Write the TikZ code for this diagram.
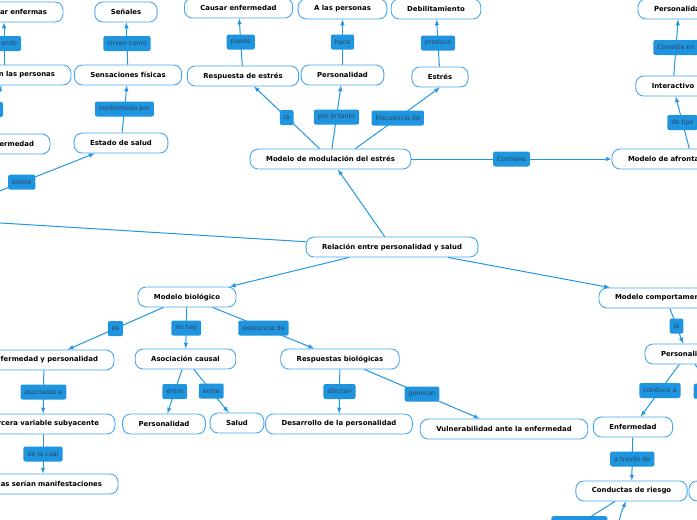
\documentclass[tikz,border=0pt]{standalone}
\usepackage{fontspec}
\setmainfont{DejaVu Sans}
\usetikzlibrary{positioning,arrows}
\definecolor{lineblue}{HTML}{2196E2}
\definecolor{boxblue}{HTML}{45A7EE}
\definecolor{tagblue}{HTML}{1F94DF}
\definecolor{tagtext}{HTML}{2E4457}
\tikzset{
	mapnode/.style={draw=boxblue,fill=white,line width=0.9pt,rounded corners=8pt,minimum height=20pt,inner xsep=16pt,inner ysep=2pt,text=black,font=\bfseries\fontsize{6.9}{8}\selectfont},
	cutleft/.style={text width=#1,align=right},
	cutright/.style={text width=#1,align=left},
	maptag/.style={fill=tagblue,text=tagtext,rounded corners=2pt,minimum height=15pt,inner xsep=4pt,inner ysep=1pt,font=\fontsize{6.4}{7.5}\selectfont},
	maparrow/.style={->,>=latex,draw=lineblue,line width=1pt}
}
\begin{document}
\begin{tikzpicture}[x=1pt,y=1pt,on grid]
		\useasboundingbox (0,0) rectangle (697,-520);
		\clip (0,0) rectangle (697,-520);
		\node[mapnode](rel) at (392,-247){Relación entre personalidad y salud};
		\node[mapnode,above left = 88pt and 61.5pt of rel](modmod){Modelo de modulación del estrés};
		\draw[maparrow] (rel) -- (modmod);
		\node[mapnode,above left = 83pt and 87.5pt of modmod](resp){Respuesta de estrés};
		\draw[maparrow] (modmod) -- node[maptag](tagLa){la} (resp);
		\node[mapnode,above left = 68pt and 4.5pt of resp](causar){Causar enfermedad};
		\draw[maparrow] (resp) -- node[maptag](tagPuede){puede} (causar);
		\node[mapnode,above right = 84pt and 12pt of modmod](persA){Personalidad};
		\draw[maparrow] (modmod) -- node[maptag](tagTanto){por lo tanto} (persA);
		\node[mapnode,above left = 66pt and 0pt of persA](alas){A las personas};
		\draw[maparrow] (persA) -- node[maptag](tagHace){hace} (alas);
		\node[mapnode,above right = 82pt and 109.5pt of modmod](estres){Estrés};
		\draw[maparrow] ([xshift=25pt]modmod.north) -- node[maptag](tagFrec){Frecuencia de} (estres.south);
		\node[mapnode,above left = 68pt and 4pt of estres](debil){Debilitamiento};
		\draw[maparrow] (estres) -- node[maptag](tagProduce){produce} (debil);
		\node[mapnode,cutright=128pt,right = 361.5pt of modmod](afront){Modelo de afronta};
		\draw[maparrow] (modmod) -- node[maptag](tagContiene){Contiene} (afront);
		\node[mapnode,above left = 73pt and 19pt of afront](interac){Interactivo};
		\draw[maparrow] (afront) -- node[maptag](tagTipo){de tipo} (interac);
		\node[mapnode,cutright=50pt,above right = 77pt and 6pt of interac](persB){Personalida};
		\draw[maparrow] (interac) -- node[maptag](tagConsiste){Consiste en} (persB);

		\coordinate (offA) at (-51,-211);
		\coordinate (offB) at (-40,-220.5);
		\draw[maparrow] (rel) -- (offB);
		\node[mapnode,above left = 104pt and 271pt of rel](estado){Estado de salud};
		\draw[maparrow] (offA) -- node[maptag](tagExiste){existe} (estado);
		\node[mapnode,above right = 68pt and 7pt of estado](sens){Sensaciones físicas};
		\draw[maparrow] (estado) -- node[maptag](tagConf){conformado por} (sens);
		\node[mapnode,above left = 63pt and 2pt of sens](senales){Señales};
		\draw[maparrow] (sens) -- node[maptag](tagSirven){sirven como} (senales);
		\node[mapnode,cutleft=102pt,left = 124pt of sens](nlas){n las personas};
		\node[mapnode,cutleft=86pt,above = 63pt of nlas](arenf){ar enfermas};
		\draw[maparrow] (nlas) -- node[maptag,cutleft=26pt](tagAndo){ando} (arenf);
		\node[mapnode,cutleft=96pt,below left = 69pt and 18pt of nlas](ermed){ermedad};
		\draw[maparrow] (ermed) -- node[maptag,minimum width=16pt](tagCut){} (nlas);

		\node[mapnode,below left = 50pt and 205pt of rel](bio){Modelo biológico};
		\draw[maparrow] (rel) -- (bio);
		\node[mapnode,cutleft=108pt,below left = 63pt and 143pt of bio](enfper){fermedad y personalidad};
		\draw[maparrow] (bio) -- node[maptag](tagEs){es} (enfper);
		\node[mapnode,cutleft=112pt,below left = 64pt and 1pt of enfper](terc){rcera variable subyacente};
		\draw[maparrow] (enfper) -- node[maptag](tagAsoc){asociadas a} (terc);
		\node[mapnode,cutleft=118pt,below = 60pt of terc](manif){as serían manifestaciones};
		\draw[maparrow] (terc) -- node[maptag](tagCual){de la cual} (manif);
		\node[mapnode,below left = 62pt and 1.5pt of bio](asoc){Asociación causal};
		\draw[maparrow] (bio) -- node[maptag](tagNoHay){no hay} (asoc);
		\node[mapnode,below left = 65pt and 21.5pt of asoc](persC){Personalidad};
		\draw[maparrow] (asoc) -- node[maptag](tagEntreA){entre} (persC);
		\node[mapnode,below right = 64pt and 51.5pt of asoc](salud){Salud};
		\draw[maparrow] (asoc) -- node[maptag](tagEntreB){entre} (salud);
		\node[mapnode,below right = 62pt and 153pt of bio](resbio){Respuestas biológicas};
		\draw[maparrow] (bio) -- node[maptag](tagExist){existencia de} (resbio);
		\node[mapnode,below left = 65pt and 1pt of resbio](desarr){Desarrollo de la personalidad};
		\draw[maparrow] (resbio) -- node[maptag](tagAfectan){afectan} (desarr);
		\node[mapnode,below right = 70pt and 164pt of resbio](vuln){Vulnerabilidad ante la enfermedad};
		\draw[maparrow] (resbio) -- node[maptag](tagGeneran){generan} (vuln);

		\node[mapnode,cutright=102pt,below right = 51pt and 274pt of rel](comp){Modelo comportamen};
		\draw[maparrow] (rel) -- (comp);
		\node[mapnode,cutright=52pt,below right = 56pt and 21pt of comp](persD){Personali};
		\draw[maparrow] (comp) -- node[maptag](tagLaB){la} (persD);
		\coordinate (offC) at (736,-418);
		\draw[maparrow] (persD) -- node[maptag,minimum width=44pt](tagCutB){} (offC);
		\node[mapnode,below left = 73pt and 54pt of persD](enferm){Enfermedad};
		\draw[maparrow] (persD) -- node[maptag](tagConduce){conduce a} (enferm);
		\node[mapnode,below left = 64pt and 1.5pt of enferm](cond){Conductas de riesgo};
		\draw[maparrow] (enferm) -- node[maptag](tagTraves){a través de} (cond);
		\node[mapnode,minimum width=60pt,right = 87.5pt of cond](condR){};
		\coordinate (offD) at (544,-546);
		\draw[maparrow] (cond) -- node[maptag,minimum width=56pt](tagCutC){} (offD);
		\coordinate (offE) at (619,-545);
		\draw[maparrow] (offE) to[bend left=15] (cond);
	\end{tikzpicture}
\end{document}
